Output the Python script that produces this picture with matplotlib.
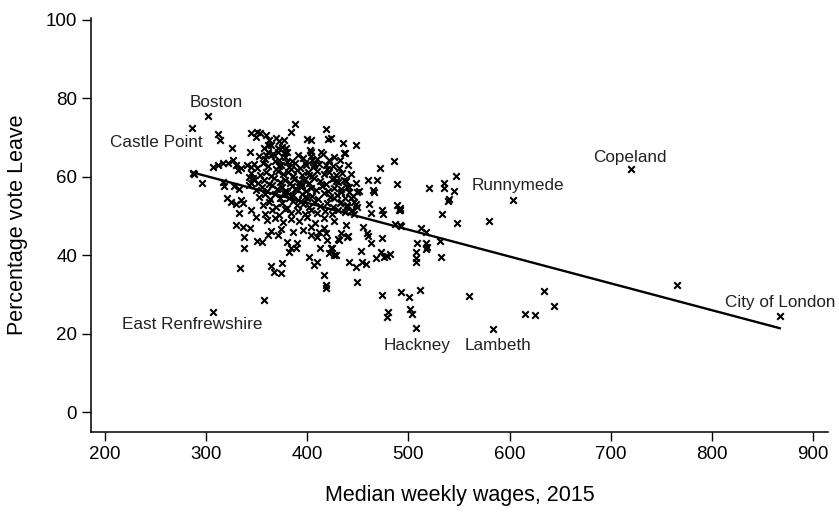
import matplotlib
matplotlib.use("Agg")
import matplotlib.pyplot as plt
import numpy as np

plt.rcParams['font.family'] = ['Liberation Sans', 'DejaVu Sans']

# dense middle of the cloud (median weekly wage, % Leave)
core_wage = [352, 358, 366, 372, 378, 385, 391, 396, 404, 410, 415, 426, 432, 368, 380,
             350, 356, 361, 369, 374, 382, 388, 393, 399, 406, 412, 419, 425, 431, 440, 372, 398,
             353, 359, 364, 371, 376, 381, 386, 390, 395, 401, 405, 410, 416, 421, 428, 434, 443, 402, 384,
             351, 357, 362, 367, 373, 378, 383, 387, 392, 397, 402, 407, 413, 418, 424, 430, 436, 448, 395,
             349, 355, 360, 365, 370, 375, 380, 385, 389, 394, 399, 404, 409, 414, 420, 426, 433, 441, 451, 388,
             352, 358, 363, 368, 373, 377, 382, 386, 391, 395, 400, 405, 411, 416, 422, 429, 437, 445, 378, 384,
             356, 362, 369, 375, 380, 386, 390, 396, 402, 407, 413, 419, 425, 432, 439, 448, 398,
             358, 365, 372, 378, 384, 391, 398, 404, 410, 417, 424, 430, 437,
             360, 368, 376, 384, 392, 400, 408, 416, 426,
             364, 374, 386, 396, 404, 412]
core_leave = [65.2, 64.6, 65.8, 64.4, 65.1, 64.0, 65.5, 64.8, 65.2, 64.6, 65.9, 65.0, 64.2, 63.9, 63.7,
              62.3, 63.4, 62.8, 62.1, 63.0, 62.5, 63.6, 62.2, 62.9, 62.4, 63.3, 62.0, 62.7, 62.3, 63.1, 62.7, 63.5,
              60.4, 61.3, 60.2, 61.6, 60.7, 61.1, 60.3, 61.7, 60.5, 61.2, 60.1, 61.5, 60.6, 61.2, 60.4, 61.0, 60.6, 60.5, 61.9,
              58.5, 59.3, 58.2, 59.6, 58.7, 59.1, 58.3, 59.5, 58.6, 59.2, 58.4, 59.7, 58.9, 58.1, 59.4, 58.6, 59.1, 58.5, 58.0,
              56.7, 57.5, 56.4, 57.8, 56.9, 57.3, 56.2, 57.6, 56.8, 57.4, 56.3, 57.1, 56.6, 57.7, 56.5, 57.2, 56.8, 57.3, 56.5, 57.0,
              54.8, 55.6, 54.3, 55.5, 54.7, 55.9, 54.5, 55.3, 54.2, 55.7, 54.6, 55.2, 54.4, 55.8, 54.9, 55.4, 54.6, 55.1, 56.5, 55.1,
              52.7, 53.6, 52.4, 53.3, 52.1, 53.8, 52.9, 53.1, 52.3, 53.5, 52.6, 53.2, 52.2, 53.4, 52.8, 53.0, 54.9,
              50.6, 51.4, 50.3, 51.7, 50.8, 51.2, 50.4, 51.6, 50.7, 51.3, 50.5, 51.5, 50.9,
              48.9, 49.5, 48.4, 49.2, 48.6, 49.8, 48.3, 49.4, 48.8,
              46.2, 46.8, 45.9, 46.5, 47.2, 46.0]

# the rest of the local authorities
outer_wage = [288.2, 286.5, 296.0, 311.2, 313.8, 325.0, 343.4,
              306.3, 311.2, 316.2, 321.1, 326.1, 329.3, 334.3, 331.0,
              316.1, 317.7, 327.6, 332.6, 321.0, 324.4, 334.3, 336.0, 329.3,
              344.1, 345.8, 344.1, 340.8, 342.5, 347.4, 342.5,
              332.6, 344.1, 349.0, 329.3, 336.0, 343.4,
              337.5, 337.5, 350.0, 354.7, 361.2, 370.5,
              333.6, 363.9, 367.1, 375.4, 374.4, 356.7,
              380.3, 383.6, 388.5, 390.2, 381.8,
              401.7, 406.6, 409.9, 416.5, 418.2, 418.5, 421.4, 426.4,
              403.4, 409.9, 418.2, 416.5, 419.8,
              413.0, 423.1, 428.0, 431.3, 439.5, 441.2, 447.8, 437.9, 449.4,
              433.0, 430.3, 440.2, 455.3, 458.6, 459.9, 462.6, 473.5, 424.8, 453.4,
              454.4, 457.7, 467.5, 472.5, 475.7, 479.1, 481.6,
              473.5, 492.9, 501.0, 511.3, 479.6, 478.4, 501.4, 504.0,
              559.7, 633.7, 644.2, 615.6, 624.8, 765.3,
              507.0, 507.0, 507.0, 508.6, 516.9, 518.5, 517.5, 531.0, 532.3,
              512.0, 516.9, 486.6, 492.2, 548.0, 579.4, 533.3,
              446.0, 462.6, 475.1, 490.5,
              435.6, 436.9, 447.8, 471.8, 485.6,
              460.2, 469.1, 465.2, 465.8, 488.9, 488.9, 491.2, 460.9, 474.1,
              520.8, 534.9, 535.6, 544.8, 547.1, 539.9, 538.9,
              423.0, 387.6, 383.6, 377.0, 418.8, 420.8, 399.4, 403.4, 402.7, 403.4, 413.2,
              344.0, 350.6, 353.3, 349.0, 358.9, 362.2, 360.6, 357.2, 360.6,
              368.8, 372.1, 375.4, 378.7, 380.3, 370.5, 377.0,
              363.9, 370.5, 358.9, 363.9,
              436.3, 421.4, 418.2, 406.6, 405.0, 344.1, 347.4,
              426.4, 428.0, 437.9, 439.5, 433.0, 441.2, 449.4, 442.9, 446.1, 449.4, 439.5, 444.5, 433.0, 426.4,
              492.0, 492.0]
outer_leave = [60.7, 60.9, 58.3, 70.9, 69.4, 67.4, 66.2,
               62.4, 63.0, 63.4, 63.6, 64.3, 63.0, 62.2, 61.7,
               58.7, 57.6, 57.6, 57.0, 54.5, 53.6, 54.1, 53.2, 53.1,
               60.9, 59.6, 58.3, 63.0, 60.0, 59.2, 57.9,
               50.7, 51.5, 49.8, 47.7, 47.3, 47.0,
               44.7, 41.8, 43.7, 43.4, 45.2, 45.2,
               36.7, 37.2, 35.8, 38.1, 35.4, 28.6,
               43.4, 41.8, 41.8, 43.0, 40.9,
               39.6, 37.5, 38.3, 35.0, 31.6, 32.4, 40.5, 40.1,
               45.2, 44.7, 45.6, 46.9, 43.9,
               41.8, 41.8, 40.1, 43.9, 44.7, 38.3, 37.1, 47.7, 33.2,
               45.7, 44.1, 44.9, 47.1, 45.6, 44.9, 43.2, 44.3, 41.8, 41.1,
               38.2, 37.7, 39.2, 40.9, 39.6, 39.8, 40.3,
               29.8, 30.5, 29.4, 31.1, 25.4, 24.3, 26.2, 24.9,
               29.7, 30.9, 27.0, 25.0, 24.7, 32.4,
               40.9, 39.2, 38.3, 43.2, 43.2, 42.0, 41.5, 43.7, 39.6,
               46.9, 46.0, 48.0, 47.5, 48.1, 48.7, 50.4,
               50.5, 50.7, 50.5, 51.5,
               68.5, 66.1, 68.1, 62.3, 64.1,
               59.2, 59.2, 56.6, 56.2, 58.2, 52.8, 52.0, 53.1, 51.5,
               57.1, 58.5, 57.1, 56.4, 60.2, 54.3, 53.9,
               69.8, 73.5, 71.3, 69.4, 72.1, 69.6, 69.6, 69.4, 66.8, 66.4, 66.3,
               71.1, 71.5, 71.1, 70.2, 70.7, 69.4, 68.1, 67.3, 66.4,
               69.8, 69.0, 67.7, 67.3, 66.4, 66.4, 66.0,
               68.1, 67.3, 65.6, 65.6,
               66.0, 64.3, 63.0, 63.0, 64.3, 62.6, 63.2,
               59.6, 58.8, 58.8, 57.5, 56.2, 56.2, 56.2, 54.5, 53.6, 52.4, 52.4, 51.5, 53.6, 54.5,
               51.5, 47.7]

# named authorities
label_names = ["Boston", "Castle Point", "Copeland", "Runnymede", "City of London",
               "Hackney", "Lambeth", "East Renfrewshire"]
label_wage = [302.0, 285.6, 719.8, 603.3, 867.3, 507.0, 583.6, 306.3]
label_leave = [75.4, 72.5, 61.9, 54.1, 24.5, 21.4, 21.1, 25.6]
label_offsets = [(5.8, 10), (-25.7, -10.3), (-0.7, 8.6), (3.8, 10.3), (0, 9.6),
                 (1.4, -12.7), (3.8, -12), (-14.5, -9.6)]

# fitted line: leave = intercept + slope * wage
fit_intercept = 80.7
fit_slope = -0.0684

wage = np.array(core_wage + outer_wage + label_wage)
leave = np.array(core_leave + outer_leave + label_leave)

fig = plt.figure(figsize=(8.39, 5.19), dpi=100)
ax = fig.add_axes([91 / 839, (519 - 432) / 519, (828 - 91) / 839, (432 - 18) / 519])

ax.scatter(wage, leave, marker='x', s=22, linewidths=1.5, color='black', zorder=3)

fx = np.array([wage.min(), wage.max()])
ax.plot(fx, fit_intercept + fit_slope * fx, color='black', lw=1.7, zorder=4)

for name, x, y, off in zip(label_names, label_wage, label_leave, label_offsets):
    ax.annotate(name, xy=(x, y), xytext=off, textcoords='offset points',
                ha='center', va='center', fontsize=12.3, color='#222222')

ax.set_xlim(186, 915)
ax.set_ylim(-5.1, 100.5)
ax.set_xticks(range(200, 901, 100))
ax.set_yticks(range(0, 101, 20))
for s in ['top', 'right']:
    ax.spines[s].set_visible(False)
for s in ['left', 'bottom']:
    ax.spines[s].set_linewidth(1.1)
ax.tick_params(direction='out', length=6.5, width=1.0, labelsize=13.5, pad=3.5)

ax.set_xlabel("Median weekly wages, 2015", fontsize=15.5, va='center')
ax.set_ylabel("Percentage vote Leave", fontsize=15.5, va='center')
ax.xaxis.set_label_coords(0.5, (432 - 495) / 414)
ax.yaxis.set_label_coords((18 - 91) / 737, 0.5)

fig.savefig("out.png", dpi=100)
